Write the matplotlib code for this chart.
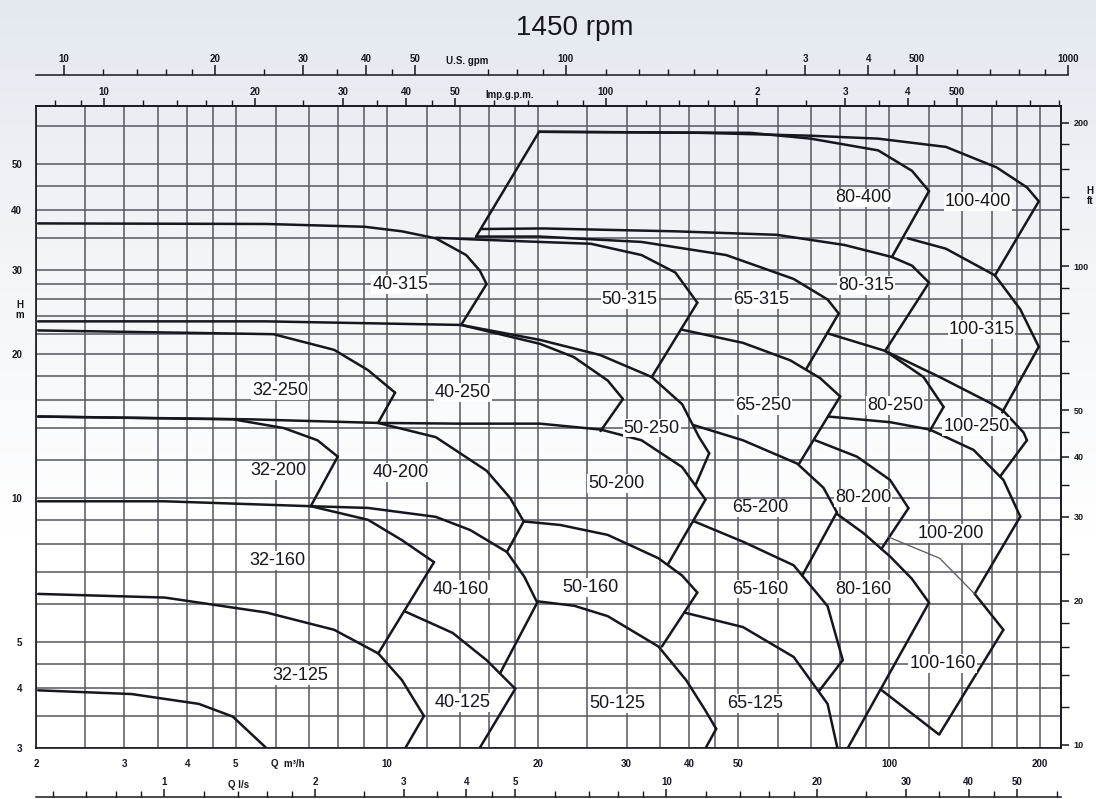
import numpy as np
import matplotlib

matplotlib.use("Agg")
import matplotlib.pyplot as plt  # noqa: E402
from matplotlib.ticker import FixedLocator, FixedFormatter, NullLocator, NullFormatter  # noqa: E402

FONT = ["Liberation Sans Narrow", "Liberation Sans", "DejaVu Sans"]

# unit conversions from m3/h and m
M3H_TO_USGPM = 4.403
M3H_TO_IMPGPM = 3.666
M3H_TO_LS = 1 / 3.6
M_TO_FT = 3.281

Q_MIN, Q_MAX = 2.0, 220.0
H_MIN, H_MAX = 3.0, 66.0

Q_GRID = [2, 2.5, 3, 3.5, 4, 4.5, 5, 6, 7, 8, 9, 10, 12, 14, 16, 18, 20, 25, 30, 35,
          40, 45, 50, 60, 70, 80, 90, 100, 120, 140, 160, 180, 200]
Q_LABELED = [2, 3, 4, 5, 10, 20, 30, 40, 50, 100, 200]
H_GRID = [3, 3.5, 4, 4.5, 5, 6, 7, 8, 9, 10, 12, 14, 16, 18, 20, 22, 24, 26, 28, 30,
          35, 40, 45, 50, 60]
H_LABELED = [3, 4, 5, 10, 20, 30, 40, 50]

FT_MAJOR = [10, 20, 30, 40, 50, 100, 200]
FT_MINOR = [12, 14, 16, 18, 25, 35, 45, 60, 70, 80, 90, 120, 140, 160, 180]

USGPM_MAJOR = [10, 20, 30, 40, 50, 100, 300, 400, 500, 1000]
USGPM_LABELS = ["10", "20", "30", "40", "50", "100", "3", "4", "500", "1000"]
USGPM_MINOR = [12, 14, 16, 18, 25, 35, 45, 70, 80, 90, 120, 140, 160, 180, 200, 250,
               350, 450, 600, 700, 800, 900]

IMP_MAJOR = [10, 20, 30, 40, 50, 100, 200, 300, 400, 500]
IMP_LABELS = ["10", "20", "30", "40", "50", "100", "2", "3", "4", "500"]
IMP_MINOR = [8, 9, 12, 14, 16, 18, 25, 35, 45, 60, 70, 80, 90, 120, 140, 160, 180, 250,
             350, 450, 600, 700, 800]

LS_MAJOR = [1, 2, 3, 4, 5, 10, 20, 30, 40, 50]
LS_MINOR = [0.6, 0.7, 0.8, 0.9, 1.2, 1.4, 1.6, 1.8, 2.5, 3.5, 4.5, 6, 7, 8, 9, 12, 14,
            16, 18, 25, 35, 45, 60]

# pump fields: polylines of (Q m3/h, H m)
P32_125 = [
    [(2.02, 6.30), (3.61, 6.19), (5.75, 5.76), (7.85, 5.30), (9.61, 4.73), (10.71, 4.16), (11.85, 3.50)],
    [(11.85, 3.50), (10.88, 3.0)],
    [(2.02, 3.96), (3.10, 3.89), (4.22, 3.71), (4.93, 3.49), (5.75, 3.0)],
]
P32_160 = [
    [(2.02, 9.84), (3.61, 9.84), (7.05, 9.61), (9.17, 9.00), (10.71, 8.16), (12.41, 7.34)],
    [(12.41, 7.34), (9.61, 4.73)],
]
P32_200 = [
    [(2.02, 14.8), (4.94, 14.6), (6.23, 14.0), (7.27, 13.2), (7.98, 12.2)],
    [(7.98, 12.2), (7.05, 9.61)],
]
P32_250 = [
    [(2.02, 22.4), (5.94, 22.0), (7.85, 20.4), (9.17, 18.5), (10.38, 16.6)],
    [(10.38, 16.6), (9.60, 14.35)],
]
P40_315 = [
    [(2.02, 37.5), (5.75, 37.4), (9.03, 36.9), (10.71, 36.1), (12.51, 34.9), (14.38, 32.2),
     (15.30, 29.9), (15.79, 28.0)],
    [(15.79, 28.0), (14.05, 23.0)],
    [(2.02, 23.4), (5.74, 23.4), (14.05, 23.0)],
]
P40_250 = [
    [(14.05, 23.0), (20.18, 21.0), (23.57, 19.7), (27.52, 17.6), (29.51, 16.1)],
    [(29.51, 16.1), (26.63, 13.8)],
]
P40_200 = [
    [(9.60, 14.35), (12.51, 13.4), (15.79, 11.4), (17.59, 10.0), (18.72, 8.93)],
    [(18.72, 8.93), (17.33, 7.71)],
]
P40_160 = [
    [(7.05, 9.61), (9.17, 9.53), (12.51, 9.13), (14.64, 8.57), (17.33, 7.71), (18.78, 6.84),
     (19.92, 6.04)],
    [(19.92, 6.04), (16.80, 4.30)],
]
P40_125 = [
    [(10.82, 5.80), (13.52, 5.22), (15.79, 4.58), (18.01, 3.99)],
    [(18.01, 3.99), (15.30, 3.0)],
]
P50_315 = [
    [(12.52, 35.0), (15.05, 34.7), (20.18, 34.3), (25.47, 34.0), (32.14, 32.2), (37.53, 29.6),
     (41.51, 25.6)],
    [(41.51, 25.6), (33.68, 17.9)],
]
P50_250 = [
    [(14.05, 23.0), (20.18, 21.4), (26.58, 19.9), (33.68, 17.9), (38.72, 15.7), (41.84, 13.4),
     (43.83, 12.4)],
    [(43.83, 12.4), (41.19, 10.65)],
]
P50_200 = [
    [(2.02, 14.8), (5.34, 14.6), (9.60, 14.35), (13.98, 14.3), (20.18, 14.3), (26.63, 13.9),
     (32.14, 13.2), (38.72, 11.6), (43.09, 9.92)],
    [(43.09, 9.92), (36.31, 7.28)],
]
P50_160 = [
    [(18.72, 8.93), (22.13, 8.78), (27.52, 8.37), (34.73, 7.48), (38.72, 6.88), (41.51, 6.34)],
    [(41.51, 6.34), (35.28, 4.89)],
]
P50_125 = [
    [(19.92, 6.08), (23.6, 5.95), (27.52, 5.66), (34.73, 4.89), (39.43, 4.16), (43.03, 3.60),
     (45.26, 3.29)],
    [(45.26, 3.29), (43.13, 3.0)],
]
P65_315 = [
    [(15.05, 35.2), (20.18, 35.2), (32.14, 34.3), (47.38, 32.2), (64.57, 28.7), (75.43, 26.0),
     (79.37, 24.3)],
    [(79.37, 24.3), (68.39, 18.6)],
]
P65_250 = [
    [(38.54, 22.5), (51.17, 21.1), (63.55, 19.4), (72.92, 17.8), (79.92, 16.3)],
    [(79.92, 16.3), (66.22, 11.8)],
]
P65_200 = [
    [(40.8, 14.2), (51.17, 13.2), (65.61, 11.8), (74.03, 10.5), (78.72, 9.33)],
    [(78.72, 9.33), (67.14, 6.88)],
]
P65_160 = [
    [(40.72, 8.95), (51.17, 8.10), (64.57, 7.23), (75.43, 5.94), (80.88, 4.58)],
    [(80.88, 4.58), (72.58, 3.95)],
]
P65_125 = [
    [(39.07, 5.76), (51.17, 5.37), (64.57, 4.65), (75.43, 3.71), (78.9, 3.0)],
]
P80_400 = [
    [(15.05, 35.2), (20.09, 58.3)],
    [(20.09, 58.3), (52.88, 58.0), (69.81, 56.4), (95.13, 53.3), (111.1, 48.3), (120.1, 43.8)],
    [(120.1, 43.8), (101.3, 31.9)],
]
P80_315 = [
    [(15.40, 36.5), (20.46, 36.6), (37.5, 36.1), (59.74, 35.5), (81.52, 33.8), (101.3, 31.9),
     (111.1, 30.6), (120.1, 28.2)],
    [(120.1, 28.2), (98.22, 20.3)],
]
P80_250 = [
    [(75.3, 22.1), (98.22, 20.3), (117.1, 17.9), (128.4, 15.5)],
    [(128.4, 15.5), (120.5, 13.8)],
]
P80_200 = [
    [(71.26, 13.2), (86.29, 12.2), (100.5, 10.9), (109.3, 9.52)],
    [(109.3, 9.52), (96.5, 7.82)],
]
P80_160 = [
    [(78.72, 9.26), (88.94, 8.44), (100.5, 7.54), (111.1, 6.77), (120.1, 6.04)],
    [(120.1, 6.04), (82.76, 3.0)],
]
P100_400 = [
    [(20.09, 58.3), (42.05, 58.0), (69.81, 57.2), (95.13, 56.4), (129.8, 54.2), (163.8, 49.1),
     (188.2, 44.6), (198.7, 41.7)],
    [(198.7, 41.7), (162.5, 29.2)],
]
P100_315 = [
    [(109.0, 34.9), (129.8, 33.2), (162.5, 29.2), (182.5, 24.8), (198.7, 20.7)],
    [(198.7, 20.7), (168.0, 15.1)],
]
P100_250 = [
    [(98.22, 20.3), (126.1, 17.9), (159.0, 15.8), (169.0, 15.2), (185.3, 13.7), (188.2, 13.2)],
    [(188.2, 13.2), (166.5, 11.1)],
]
P100_200 = [
    [(75.6, 14.8), (100.5, 14.4), (120.5, 13.9), (147.3, 12.6), (169.0, 10.9), (182.5, 9.14)],
    [(182.5, 9.14), (148.1, 6.30)],
]
P100_160 = [
    [(148.1, 6.30), (168.9, 5.30)],
    [(168.9, 5.30), (125.8, 3.20), (96.45, 3.97)],
]
P100_160_THIN = [(99.59, 8.29), (126.1, 7.48), (148.1, 6.30)]

PUMPS = [P32_125, P32_160, P32_200, P32_250, P40_315, P40_250, P40_200, P40_160, P40_125,
         P50_315, P50_250, P50_200, P50_160, P50_125, P65_315, P65_250, P65_200, P65_160,
         P65_125, P80_400, P80_315, P80_250, P80_200, P80_160, P100_400, P100_315,
         P100_250, P100_200, P100_160]

LABEL_NAMES = ["40-315", "32-250", "40-250", "32-200", "40-200", "32-160", "40-160",
               "32-125", "40-125", "50-315", "65-315", "80-315", "80-400", "100-400",
               "100-315", "50-250", "65-250", "80-250", "100-250", "50-200", "65-200",
               "80-200", "100-200", "50-160", "65-160", "80-160", "100-160", "50-125",
               "65-125"]
LABEL_Q = [10.63, 6.13, 14.16, 6.08, 10.63, 6.04, 14.05, 6.73, 14.16, 30.45, 55.5, 90.1,
           88.8, 150.4, 152.8, 33.68, 56.1, 102.8, 149.2, 28.6, 55.3, 88.8, 132.8, 25.47,
           55.3, 88.8, 127.8, 28.8, 54.0]
LABEL_H = [27.9, 16.8, 16.6, 11.4, 11.3, 7.40, 6.45, 4.25, 3.74, 26.0, 26.0, 27.8, 42.4,
           41.7, 22.5, 14.0, 15.6, 15.6, 14.1, 10.7, 9.53, 10.0, 8.43, 6.50, 6.45, 6.45,
           4.51, 3.71, 3.71]

W, HPX = 1096, 799
PX_LEFT, PX_RIGHT, PX_TOP, PX_BOTTOM = 36, 1061, 106, 748
INK = "#16161f"
GRID = "#5c5c66"


def q_to_px(q):
    return PX_LEFT + (PX_RIGHT - PX_LEFT) * np.log10(q / Q_MIN) / np.log10(Q_MAX / Q_MIN)


def scale_strip(fig, y_px, q_lo, q_hi, factor, major, labels, minor, major_len, minor_len, pad):
    x0, x1 = q_to_px(q_lo), q_to_px(q_hi)
    a = fig.add_axes([x0 / W, 1 - y_px / HPX, (x1 - x0) / W, 1e-6])
    a.set_xscale("log")
    a.set_xlim(q_lo * factor, q_hi * factor)
    a.patch.set_visible(False)
    for side in ("left", "right", "bottom"):
        a.spines[side].set_visible(False)
    a.spines["top"].set_color(INK)
    a.spines["top"].set_linewidth(1.1)
    a.yaxis.set_major_locator(NullLocator())
    a.xaxis.set_ticks_position("top")
    a.xaxis.set_major_locator(FixedLocator(major))
    a.xaxis.set_major_formatter(FixedFormatter(labels))
    a.xaxis.set_minor_locator(FixedLocator(minor))
    a.xaxis.set_minor_formatter(NullFormatter())
    a.tick_params(axis="x", which="major", direction="out", length=major_len, width=1.1,
                  pad=pad, labelsize=7, colors=INK)
    a.tick_params(axis="x", which="minor", direction="out", length=minor_len, width=1.0,
                  colors=INK)
    for t in a.get_xticklabels():
        t.set_fontweight("bold")
        t.set_family(FONT)
    return a


fig = plt.figure(figsize=(W / 100, HPX / 100), dpi=100)
fig.patch.set_facecolor("white")

# soft bluish wash at the top of the sheet
bg = fig.add_axes([0, 0, 1, 1], zorder=-10)
bg.imshow(np.linspace(0, 1, 256).reshape(-1, 1), cmap=matplotlib.colors.LinearSegmentedColormap.from_list(
    "wash", ["#e4e9f0", "#f3f5f8", "#ffffff", "#ffffff"]), aspect="auto", extent=(0, 1, 0, 1),
    origin="upper")
bg.set_axis_off()

ax = fig.add_axes([PX_LEFT / W, 1 - PX_BOTTOM / HPX, (PX_RIGHT - PX_LEFT) / W,
                   (PX_BOTTOM - PX_TOP) / HPX])
ax.patch.set_alpha(0.0)
ax.set_xscale("log")
ax.set_yscale("log")
ax.set_xlim(Q_MIN, Q_MAX)
ax.set_ylim(H_MIN, H_MAX)
ax.xaxis.set_major_locator(FixedLocator(Q_GRID))
ax.xaxis.set_major_formatter(FixedFormatter([f"{q:g}" if q in Q_LABELED else "" for q in Q_GRID]))
ax.xaxis.set_minor_locator(NullLocator())
ax.yaxis.set_major_locator(FixedLocator(H_GRID))
ax.yaxis.set_major_formatter(FixedFormatter([f"{h:g}" if h in H_LABELED else "" for h in H_GRID]))
ax.yaxis.set_minor_locator(NullLocator())
ax.tick_params(axis="x", length=0, pad=8, labelsize=7, colors=INK)
ax.tick_params(axis="y", length=0, pad=10, labelsize=7, colors=INK)
for t in ax.get_xticklabels() + ax.get_yticklabels():
    t.set_fontweight("bold")
    t.set_family(FONT)
ax.grid(True, which="major", color=GRID, linewidth=1.15, zorder=1)
ax.set_axisbelow(True)
for side in ax.spines:
    ax.spines[side].set_color(INK)
    ax.spines[side].set_linewidth(1.2)

for pump in PUMPS:
    for line in pump:
        q, h = zip(*line)
        ax.plot(q, h, color=INK, linewidth=1.8, solid_capstyle="round",
                solid_joinstyle="round", zorder=3)
q, h = zip(*P100_160_THIN)
ax.plot(q, h, color="#55555e", linewidth=0.9, zorder=3)

for name, q, h in zip(LABEL_NAMES, LABEL_Q, LABEL_H):
    ax.text(q, h, name, ha="center", va="center", fontsize=13, family=FONT, color=INK,
            zorder=4, bbox=dict(facecolor="white", edgecolor="none", pad=0.6))

ax.text(6.35, -0.017, "Q  m³/h", transform=ax.get_xaxis_transform(), ha="center", va="top",
        fontsize=7, fontweight="bold", family=FONT, color=INK)

# head in feet on the right
axr = ax.twinx()
axr.set_yscale("log")
axr.set_ylim(H_MIN * M_TO_FT, H_MAX * M_TO_FT)
axr.yaxis.set_major_locator(FixedLocator(FT_MAJOR))
axr.yaxis.set_major_formatter(FixedFormatter([str(v) for v in FT_MAJOR]))
axr.yaxis.set_minor_locator(FixedLocator(FT_MINOR))
axr.yaxis.set_minor_formatter(NullFormatter())
axr.tick_params(axis="y", which="major", direction="out", length=6, width=1.1, pad=3,
                labelsize=6.5, colors=INK)
axr.tick_params(axis="y", which="minor", direction="out", length=6, width=1.0, colors=INK)
for t in axr.get_yticklabels():
    t.set_fontweight("bold")
    t.set_family(FONT)
for side in ("left", "top", "bottom"):
    axr.spines[side].set_visible(False)
axr.spines["right"].set_color(INK)
axr.spines["right"].set_linewidth(1.2)

# flow scales in other units
scale_strip(fig, 75, Q_MIN, 1000 / M3H_TO_USGPM, M3H_TO_USGPM, USGPM_MAJOR, USGPM_LABELS,
            USGPM_MINOR, major_len=7, minor_len=4, pad=1)
scale_strip(fig, PX_TOP, Q_MIN, Q_MAX, M3H_TO_IMPGPM, IMP_MAJOR, IMP_LABELS, IMP_MINOR,
            major_len=6, minor_len=4, pad=0.5)
scale_strip(fig, 797, Q_MIN, Q_MAX, M3H_TO_LS, LS_MAJOR, [f"{v:g}" for v in LS_MAJOR],
            LS_MINOR, major_len=6, minor_len=4, pad=1)

txt = dict(fontsize=7, fontweight="bold", family=FONT, color=INK, ha="center", va="center")
fig.text(467 / W, 1 - 61 / HPX, "U.S. gpm", **txt)
fig.text(510 / W, 1 - 95 / HPX, "Imp.g.p.m.", **txt)
fig.text(239 / W, 1 - 785 / HPX, "Q l/s", **txt)
fig.text(20 / W, 1 - 310 / HPX, "H\nm", linespacing=1.1, **txt)
fig.text(1090 / W, 1 - 196 / HPX, "H\nft", linespacing=1.0, **txt)

fig.text(575 / W, 1 - 28 / HPX, "1450 rpm", ha="center", va="center", fontsize=20,
         family=FONT, color=INK)

fig.savefig("out.png", dpi=100)
plt.close(fig)
